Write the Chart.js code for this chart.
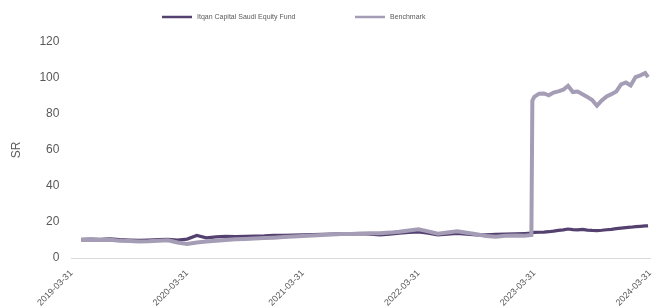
<!DOCTYPE html>
<html>
<head>
<meta charset="utf-8">
<script src="https://cdn.jsdelivr.net/npm/chart.js@4"></script>
<style>
html,body{margin:0;padding:0;background:#fff;}
#wrap{width:661px;height:308px;position:relative;}
</style>
</head>
<body>
<div id="wrap"><canvas id="c" width="661" height="308"></canvas></div>
<script>
// months since 2019-03-31
const months = [1,2,3,4,5,6,7,8,9,10,11,12,13,14,15,16,17,18,19,20,21,22,23,24,25,26,27,28,29,30,31,32,33,34,35,36,37,38,39,40,41,42,43,44,45,46,47,47.7,47.8,48,48.5,49,49.5,50,50.5,51,51.5,52,52.5,53,53.5,54,54.5,55,55.5,56,56.5,57,57.5,58,58.5,59,59.5,59.8];
const fund = [10.3,10.5,10.4,10.6,10.2,10.0,9.8,10.0,10.2,10.3,10.0,10.5,12.5,11.2,11.7,12.0,11.9,12.0,12.2,12.3,12.6,12.6,12.7,12.9,13.0,13.2,13.3,13.4,13.3,13.5,13.3,12.9,13.2,13.8,14.2,14.5,13.8,12.8,13.2,13.6,13.2,12.9,12.8,13.2,13.3,13.4,13.6,13.8,14.0,14.2,14.3,14.4,14.6,14.9,15.3,15.6,16.1,15.8,15.6,15.9,15.5,15.3,15.2,15.4,15.7,15.9,16.3,16.6,16.9,17.1,17.4,17.6,17.8,17.9];
const benchmark = [10.0,10.2,10.0,10.1,9.6,9.4,9.2,9.3,9.6,9.8,8.6,7.8,8.6,9.2,9.6,10.0,10.4,10.6,10.9,11.1,11.3,11.6,11.9,12.2,12.5,12.8,13.0,13.3,13.4,13.6,13.7,13.8,14.1,14.6,15.3,15.9,14.8,13.5,14.2,14.8,14.0,13.2,12.2,11.8,12.3,12.5,12.4,12.8,87.4,89.5,91.3,91.4,90.4,91.9,92.6,93.5,95.7,92.2,92.5,91.0,89.5,87.8,84.6,87.5,89.8,91.0,92.5,96.5,97.5,95.8,100.5,101.5,102.8,100.5];
const tickLabels = ['2019-03-31','2020-03-31','2021-03-31','2022-03-31','2023-03-31','2024-03-31'];
const yTicks = [0,20,40,60,80,100,120];
const seriesNames = ['Itqan Capital Saudi Equity Fund','Benchmark'];

const fundPts = months.map((m,i)=>({x:m,y:fund[i]}));
const benchPts = months.map((m,i)=>({x:m,y:benchmark[i]}));

const FUND_COLOR = '#54416f';
const BENCH_COLOR = '#a59db5';

// simple custom legend drawn on canvas (fixed spacing as in reference)
const legendPlugin = {
  id:'customLegend',
  afterDraw(chart){
    const ctx = chart.ctx;
    ctx.save();
    ctx.font = '7px "Liberation Sans"';
    ctx.textBaseline = 'middle';
    ctx.fillStyle = '#595959';
    const y = 17;
    const items = [
      {x:162, color:FUND_COLOR, text:seriesNames[0]},
      {x:355, color:BENCH_COLOR, text:seriesNames[1]}
    ];
    items.forEach(it=>{
      ctx.strokeStyle = it.color;
      ctx.lineWidth = 2.5;
      ctx.beginPath();
      ctx.moveTo(it.x, y); ctx.lineTo(it.x+30, y);
      ctx.stroke();
      ctx.fillText(it.text, it.x+35, y);
    });
    ctx.restore();
  }
};

new Chart(document.getElementById('c'), {
  type: 'line',
  data: {
    datasets: [
      {label:seriesNames[1], data: benchPts, borderColor:BENCH_COLOR, backgroundColor:BENCH_COLOR, borderWidth:4, pointRadius:0, tension:0},
      {label:seriesNames[0], data: fundPts, borderColor:FUND_COLOR, backgroundColor:FUND_COLOR, borderWidth:3.2, pointRadius:0, tension:0}
    ]
  },
  plugins:[legendPlugin],
  options: {
    responsive:false, animation:false,
    layout:{padding:{left:5,right:11,top:42,bottom:0}},
    plugins:{
      legend:{display:false},
      tooltip:{enabled:false}
    },
    scales:{
      x:{type:'linear', min:0, max:60,
        afterFit:(scale)=>{scale.height = 50;},
        grid:{display:false},
        border:{display:true, color:'#d9d9d9', width:1},
        ticks:{stepSize:12, padding:2, minRotation:45, maxRotation:45, color:'#595959', font:{family:'Liberation Sans', size:9},
          callback:(v)=> tickLabels[Math.round(v/12)]}
      },
      y:{min:0, max:120,
        afterBuildTicks:(ax)=>{ax.ticks = yTicks.map(v=>({value:v}));},
        grid:{drawTicks:false, color:(ctx)=> ctx.tick && ctx.tick.value===0 ? '#d9d9d9':'rgba(0,0,0,0)'},
        border:{display:false},
        title:{display:true, text:'SR', color:'#595959', font:{family:'Liberation Sans', size:12}},
        ticks:{padding:12, color:'#595959', font:{family:'Liberation Sans', size:12}}
      }
    }
  }
});
</script>
</body>
</html>
